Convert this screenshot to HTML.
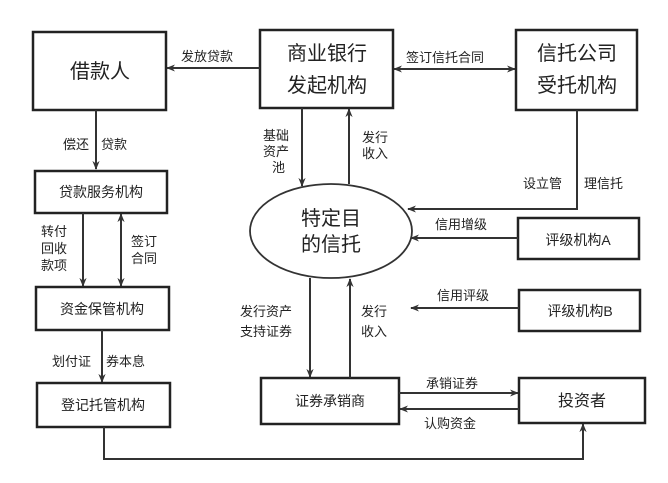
<!DOCTYPE html>
<html><head><meta charset="utf-8"><style>
html,body{margin:0;padding:0;background:#fff}
svg text{font-family:"Liberation Sans","Noto Sans CJK SC",sans-serif;fill:#222}
</style></head><body>
<svg width="668" height="478" viewBox="0 0 668 478" xmlns="http://www.w3.org/2000/svg">
<defs>
<marker id="a" viewBox="0 0 10 10" refX="9" refY="5" markerWidth="9" markerHeight="9" orient="auto-start-reverse" markerUnits="userSpaceOnUse">
<path d="M0,1 L10,5 L0,9 L3,5 z" fill="#333"/></marker>
</defs>
<g fill="none" stroke="#222" stroke-width="2.5">
<rect x="33" y="32" width="133" height="78"/>
<rect x="260" y="30" width="133" height="78"/>
<rect x="516" y="30" width="121" height="80"/>
<rect x="35" y="171" width="132" height="42"/>
<rect x="36" y="287" width="133" height="43"/>
<rect x="37" y="383" width="133" height="44"/>
<rect x="518" y="218" width="121" height="41"/>
<rect x="519" y="290" width="121" height="41"/>
<rect x="261" y="378" width="138" height="46"/>
<rect x="519" y="378" width="126" height="45"/>
</g>
<ellipse cx="331" cy="231" rx="81" ry="47" fill="none" stroke="#333" stroke-width="1.8"/>
<g stroke="#333" stroke-width="2" fill="none">
<line x1="260" y1="68" x2="167" y2="68" marker-end="url(#a)"/>
<line x1="394" y1="69" x2="515" y2="69" marker-start="url(#a)" marker-end="url(#a)"/>
<line x1="302" y1="108" x2="302" y2="186" marker-end="url(#a)"/>
<line x1="349" y1="184" x2="349" y2="109" marker-end="url(#a)"/>
<polyline points="577,110 577,209 408,209" marker-end="url(#a)"/>
<line x1="518" y1="238" x2="411" y2="238" marker-end="url(#a)"/>
<line x1="519" y1="308" x2="411" y2="308" marker-end="url(#a)"/>
<line x1="96" y1="110" x2="96" y2="169" marker-end="url(#a)"/>
<line x1="83" y1="213" x2="83" y2="286" marker-end="url(#a)"/>
<line x1="121" y1="286" x2="121" y2="214" marker-start="url(#a)" marker-end="url(#a)"/>
<line x1="102" y1="330" x2="102" y2="382" marker-end="url(#a)"/>
<line x1="310" y1="278" x2="310" y2="377" marker-end="url(#a)"/>
<line x1="350" y1="378" x2="350" y2="279" marker-end="url(#a)"/>
<line x1="399" y1="393" x2="518" y2="393" marker-end="url(#a)"/>
<line x1="519" y1="409" x2="400" y2="409" marker-end="url(#a)"/>
<polyline points="104,427 104,459 583,459 583,424" marker-end="url(#a)"/>
</g>
<g font-size="20" text-anchor="middle" fill="#333">
<text x="100" y="78">借款人</text>
<text x="327" y="60">商业银行</text>
<text x="327" y="92">发起机构</text>
<text x="577" y="60">信托公司</text>
<text x="577" y="92">受托机构</text>
<text x="331" y="225">特定目</text>
<text x="331" y="251">的信托</text>
</g>
<g font-size="14" text-anchor="middle">
<text x="101" y="197">贷款服务机构</text>
<text x="102" y="314">资金保管机构</text>
<text x="103" y="410">登记托管机构</text>
<text x="578" y="245">评级机构A</text>
<text x="580" y="316">评级机构B</text>
<text x="330" y="406">证券承销商</text>
<text x="582" y="406" font-size="16">投资者</text>
</g>
<g font-size="13">
<text x="181" y="61">发放贷款</text>
<text x="406" y="62">签订信托合同</text>
<text x="263" y="140">基础</text>
<text x="263" y="156">资产</text>
<text x="272" y="172">池</text>
<text x="362" y="142">发行</text>
<text x="362" y="158">收入</text>
<text x="523" y="188">设立管</text>
<text x="584" y="188">理信托</text>
<text x="435" y="229">信用增级</text>
<text x="437" y="300">信用评级</text>
<text x="63" y="149">偿还</text>
<text x="101" y="149">贷款</text>
<text x="41" y="236">转付</text>
<text x="41" y="253">回收</text>
<text x="41" y="270">款项</text>
<text x="131" y="246">签订</text>
<text x="131" y="263">合同</text>
<text x="52" y="366">划付证</text>
<text x="106" y="366">券本息</text>
<text x="240" y="316">发行资产</text>
<text x="240" y="336">支持证券</text>
<text x="361" y="316">发行</text>
<text x="361" y="336">收入</text>
<text x="426" y="388">承销证券</text>
<text x="424" y="428">认购资金</text>
</g>
</svg>
</body></html>
